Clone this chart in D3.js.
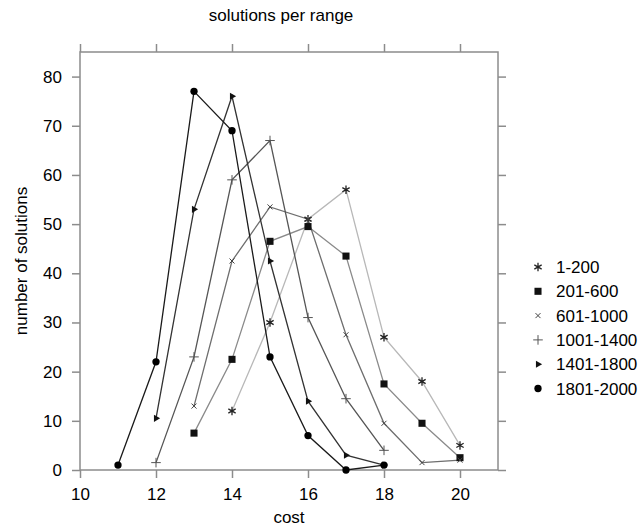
<!DOCTYPE html>
<html lang="en">
<head>
    <meta charset="UTF-8">
    <title>solutions per range</title>
    <style>
        body {
            margin: 0;
            padding: 0;
            background: #ffffff;
            font-family: 'Liberation Sans', Arial, sans-serif;
        }
        .axis text {
            font-size: 17px;
            fill: #000;
        }
        .axis path, .axis line {
            stroke: #8c8c8c;
            stroke-width: 1.5px;
        }
    </style>
</head>
<body>
    <script src="https://d3js.org/d3.v7.min.js"></script>
    <script>
        const width = 641;
        const height = 527;

        // ranges (legend order)
        const ranges = ["1-200", "201-600", "601-1000", "1001-1400", "1401-1800", "1801-2000"];
        // cost values per series
        const costs1 = [14, 15, 16, 17, 18, 19, 20];
        const vals1 = [12, 30, 51, 57, 27, 18, 5];
        const costs2 = [13, 14, 15, 16, 17, 18, 19, 20];
        const vals2 = [7.5, 22.5, 46.5, 49.5, 43.5, 17.5, 9.5, 2.5];
        const costs3 = [13, 14, 15, 16, 17, 18, 19, 20];
        const vals3 = [13, 42.5, 53.5, 51, 27.5, 9.5, 1.5, 2];
        const costs4 = [12, 13, 14, 15, 16, 17, 18];
        const vals4 = [1.5, 23, 59, 67, 31, 14.5, 4];
        const costs5 = [12, 13, 14, 15, 16, 17, 18];
        const vals5 = [10.5, 53, 76, 42.5, 14, 3, 1];
        const costs6 = [11, 12, 13, 14, 15, 16, 17, 18];
        const vals6 = [1, 22, 77, 69, 23, 7, 0, 1];

        const xTicks = [10, 12, 14, 16, 18, 20];
        const yTicks = [0, 10, 20, 30, 40, 50, 60, 70, 80];

        const lineColors = ["#b8b8b8", "#8a8a8a", "#6e6e6e", "#555555", "#333333", "#1a1a1a"];
        const markColors = ["#222222", "#111111", "#444444", "#555555", "#111111", "#000000"];
        const symbols = [d3.symbolAsterisk, d3.symbolSquare, d3.symbolTimes, d3.symbolPlus, d3.symbolTriangle, d3.symbolCircle];
        const symSizes = [50, 50, 18, 32, 22, 42];
        const filled = [false, true, false, false, true, true];

        const series = [
            [costs1, vals1], [costs2, vals2], [costs3, vals3],
            [costs4, vals4], [costs5, vals5], [costs6, vals6]
        ].map((s, i) => ({
            name: ranges[i],
            points: s[0].map((c, j) => ({ x: c, y: s[1][j] }))
        }));

        const m = { left: 80, top: 52, right: 498, bottom: 470 };

        const x = d3.scaleLinear().domain([10, 21]).range([m.left, m.right]);
        const y = d3.scaleLinear().domain([0, 85]).range([m.bottom, m.top]);

        const svg = d3.select("body").append("svg")
            .attr("width", width)
            .attr("height", height);

        // frame
        svg.append("rect")
            .attr("x", m.left).attr("y", m.top)
            .attr("width", m.right - m.left).attr("height", m.bottom - m.top)
            .attr("fill", "none")
            .attr("stroke", "#8c8c8c")
            .attr("stroke-width", 1.5);

        svg.append("g").attr("class", "axis")
            .attr("transform", `translate(0,${m.bottom})`)
            .call(d3.axisBottom(x).tickValues(xTicks).tickSize(8).tickPadding(10).tickSizeOuter(0))
            .call(g => g.select(".domain").remove());
        svg.append("g").attr("class", "axis")
            .attr("transform", `translate(0,${m.top})`)
            .call(d3.axisTop(x).tickValues(xTicks).tickSize(8).tickFormat("").tickSizeOuter(0))
            .call(g => g.select(".domain").remove());
        svg.append("g").attr("class", "axis")
            .attr("transform", `translate(${m.left},0)`)
            .call(d3.axisLeft(y).tickValues(yTicks).tickSize(8).tickPadding(10).tickSizeOuter(0))
            .call(g => g.select(".domain").remove());
        svg.append("g").attr("class", "axis")
            .attr("transform", `translate(${m.right},0)`)
            .call(d3.axisRight(y).tickValues(yTicks).tickSize(8).tickFormat("").tickSizeOuter(0))
            .call(g => g.select(".domain").remove());

        const line = d3.line().x(d => x(d.x)).y(d => y(d.y));

        series.forEach((s, i) => {
            svg.append("path")
                .datum(s.points)
                .attr("fill", "none")
                .attr("stroke", lineColors[i])
                .attr("stroke-width", 1.3)
                .attr("d", line);
        });

        function drawSymbol(sel, i) {
            sel.attr("d", d3.symbol().type(symbols[i]).size(symSizes[i]))
                .attr("fill", filled[i] ? markColors[i] : "none")
                .attr("stroke", filled[i] ? "none" : markColors[i])
                .attr("stroke-width", i === 0 ? 1.3 : 1);
        }

        series.forEach((s, i) => {
            svg.append("g").selectAll("path")
                .data(s.points)
                .join("path")
                .call(drawSymbol, i)
                .attr("transform", d => `translate(${x(d.x)},${y(d.y)})` + (i === 4 ? " rotate(90)" : ""));
        });

        // titles
        svg.append("text")
            .attr("x", 281).attr("y", 21)
            .attr("text-anchor", "middle")
            .style("font-size", "17px")
            .text("solutions per range");

        svg.append("text")
            .attr("x", (m.left + m.right) / 2).attr("y", 523)
            .attr("text-anchor", "middle")
            .style("font-size", "17px")
            .text("cost");

        svg.append("text")
            .attr("transform", `translate(27,${(m.top + m.bottom) / 2}) rotate(-90)`)
            .attr("text-anchor", "middle")
            .style("font-size", "17px")
            .text("number of solutions");

        // legend
        const legend = svg.append("g").selectAll("g")
            .data(ranges)
            .join("g")
            .attr("transform", (d, i) => `translate(538,${267 + i * 24.3})`);

        legend.append("path")
            .each(function(d, i) {
                d3.select(this).call(drawSymbol, i)
                    .attr("transform", i === 4 ? "rotate(90)" : null);
            });

        legend.append("text")
            .attr("x", 18)
            .attr("y", 6)
            .style("font-size", "17px")
            .text(d => d);
    </script>
</body>
</html>
